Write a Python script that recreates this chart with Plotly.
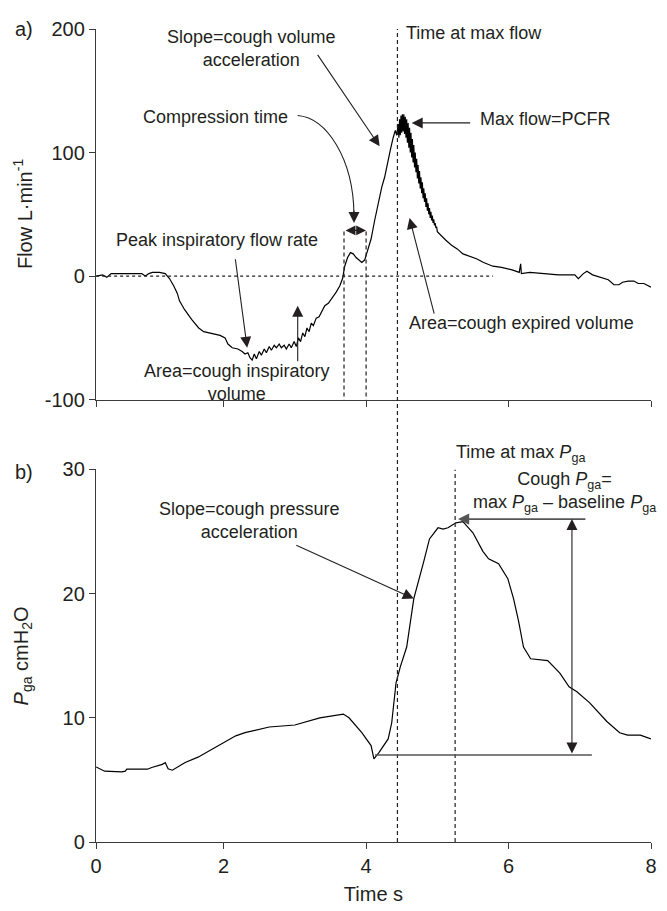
import plotly.graph_objects as go

# ---------------- data ----------------
flow_time = [0.21, 0.3, 0.36, 0.42, 0.5, 0.6, 0.75, 0.85, 0.9, 0.95, 1.0, 1.1, 1.18, 1.24, 1.3, 1.35,
             1.38, 1.45, 1.55, 1.65, 1.72, 1.8, 1.88, 1.95, 2.02, 2.06, 2.12, 2.2, 2.26, 2.3, 2.34,
             2.37, 2.4, 2.43, 2.46, 2.5, 2.53, 2.57, 2.6, 2.64, 2.67, 2.71, 2.74, 2.78, 2.81, 2.85,
             2.88, 2.92, 2.95, 2.99, 3.02, 3.05, 3.08, 3.11, 3.14, 3.17, 3.2, 3.23, 3.26, 3.3, 3.34,
             3.38, 3.42, 3.47, 3.52, 3.58, 3.63, 3.67, 3.7, 3.74, 3.78, 3.82, 3.86, 3.9, 3.94, 3.98,
             4.02, 4.07, 4.12, 4.17, 4.22, 4.26, 4.3, 4.34, 4.38, 4.41, 4.43,
             4.45, 4.46, 4.47, 4.48, 4.49, 4.50, 4.51, 4.52, 4.53, 4.54, 4.55, 4.56, 4.57, 4.58,
             4.59, 4.60, 4.61, 4.62, 4.63, 4.64, 4.65, 4.66, 4.67, 4.68, 4.69, 4.70, 4.71, 4.72,
             4.73, 4.74, 4.75, 4.76, 4.77, 4.78, 4.79, 4.80, 4.81, 4.82, 4.83, 4.84, 4.85, 4.86,
             4.87, 4.88, 4.89, 4.90, 4.91, 4.92, 4.93, 4.94, 4.95, 4.96, 4.97, 4.98, 4.99, 5.0,
             5.05, 5.12, 5.2, 5.28, 5.36, 5.45,
             5.55, 5.65, 5.78, 5.9, 6.05, 6.15, 6.17, 6.18, 6.3, 6.5, 6.7, 6.93, 6.98, 7.05, 7.1,
             7.18, 7.3, 7.4, 7.48, 7.55, 7.6, 7.68, 7.76, 7.82, 7.9, 8.0]
flow_value = [0, 1, -1, 2, 2, 2, 2, 2, 0, 2, 3, 3, 2, -2, -8, -14,
              -20, -27, -35, -42, -45, -46, -47, -48, -50, -55, -58, -59, -61, -63, -62,
              -66, -68, -63, -67, -61, -64, -59, -62, -57, -60, -56, -58, -55, -58, -56,
              -59, -55, -58, -53, -57, -50, -53, -46, -49, -42, -45, -38, -40, -34, -33,
              -28, -24, -22, -18, -13, -8, -2, 8, 15, 19, 18, 15, 13, 11, 13,
              20, 30, 45, 60, 72, 80, 92, 102, 112, 118, 114,
              123, 112, 127, 114, 130, 116, 131, 117, 131, 115, 129, 112, 127, 108,
              124, 104, 120, 100, 116, 96, 111, 92, 106, 88, 100, 84, 95, 79,
              90, 75, 85, 71, 80, 67, 76, 63, 71, 60, 67, 56, 63, 53,
              59, 50, 55, 47, 52, 45, 49, 43, 46, 41, 43, 39, 40, 36,
              33, 29, 25, 22, 18, 16,
              14, 11, 8, 7, 5, 3, 10, 2, 3, 2, 1, 1, -2, 2, 4,
              1, -1, -3, -7, -7, -5, -4, -4, -6, -6, -9]

pga_time = [0.21, 0.33, 0.57, 0.62, 0.64, 0.93, 0.99, 1.14, 1.18, 1.22, 1.28, 1.35, 1.46, 1.64,
            1.93, 2.17, 2.3, 2.4, 2.5, 2.64, 3.0, 3.11, 3.35, 3.68, 3.76, 3.94, 4.07, 4.11,
            4.18, 4.31, 4.36, 4.42, 4.48, 4.57, 4.67, 4.81, 4.89, 5.01, 5.08, 5.15, 5.26,
            5.36, 5.5, 5.64, 5.72, 5.86, 5.99, 6.07, 6.14, 6.21, 6.31, 6.55, 6.72, 6.85,
            6.96, 7.14, 7.38, 7.56, 7.67, 7.85, 8.0]
pga_value = [6.04, 5.7, 5.65, 5.7, 5.86, 5.86, 6.0, 6.25, 6.4, 5.9, 5.78, 6.04, 6.4, 6.83,
             7.76, 8.55, 8.8, 8.95, 9.1, 9.26, 9.42, 9.6, 10.0, 10.3, 10.0, 8.8, 7.76, 6.7,
             7.2, 8.3, 9.6, 12.8, 14.1, 15.7, 19.6, 22.6, 24.4, 25.3, 25.2, 25.3, 25.7,
             25.8, 24.9, 23.4, 22.8, 22.4, 21.2, 19.6, 17.8, 15.7, 14.75, 14.6, 13.6, 12.5,
             12.1, 11.2, 9.7, 8.8, 8.6, 8.6, 8.3]

# landmark values
t_comp_start = 3.69
t_comp_end = 4.0
t_max_flow = 4.44
t_max_pga = 5.25
pcfr = 124
pga_max = 26.0
pga_baseline = 7.0
x_tick_vals = [0.21, 2, 4, 6, 8]
x_tick_text = ["0", "2", "4", "6", "8"]
flow_tick_vals = [-100, 0, 100, 200]
flow_tick_text = ["-100", "0", "100", "200"]
pga_tick_vals = [0, 10, 20, 30]

FONT = "Liberation Sans, Arial, sans-serif"
TXT = "#231f20"
AX = "#3a3a3a"
GREY = "#555555"
ANN = 18

fig = go.Figure()
fig.add_trace(go.Scatter(x=flow_time, y=flow_value, mode="lines",
                         line=dict(color="black", width=1.2), xaxis="x", yaxis="y",
                         hoverinfo="skip"))
fig.add_trace(go.Scatter(x=pga_time, y=pga_value, mode="lines",
                         line=dict(color="black", width=1.2), xaxis="x2", yaxis="y2",
                         hoverinfo="skip"))

dash = "4px,3px"
shapes = [
    # zero reference dotted line
    dict(type="line", xref="x", yref="y", x0=0.21, x1=5.78, y0=0, y1=0,
         line=dict(color=TXT, width=1.2, dash="dot")),
    # compression time
    dict(type="line", xref="x", yref="y", x0=t_comp_start, x1=t_comp_start, y0=36, y1=-100,
         line=dict(color=TXT, width=1.2, dash=dash)),
    dict(type="line", xref="x", yref="y", x0=t_comp_end, x1=t_comp_end, y0=36, y1=-100,
         line=dict(color=TXT, width=1.2, dash=dash)),
    # time at max flow - spans both panels
    dict(type="line", xref="x", yref="paper", x0=t_max_flow, x1=t_max_flow, y0=0, y1=1,
         line=dict(color=TXT, width=1.2, dash=dash)),
    # time at max Pga
    dict(type="line", xref="x2", yref="y2", x0=t_max_pga, x1=t_max_pga, y0=0, y1=30,
         line=dict(color=TXT, width=1.2, dash=dash)),
    # baseline Pga
    dict(type="line", xref="x2", yref="y2", x0=4.125, x1=7.17, y0=pga_baseline, y1=pga_baseline,
         line=dict(color=GREY, width=1.6)),
    # curved arrow for compression time
    dict(type="path", xref="x", yref="y",
         path="M 3.04,130 C 3.45,128 3.82,95 3.83,50",
         line=dict(color=TXT, width=1.1)),
]

def arrow(x, y, ax, ay, xr="x", yr="y", color=TXT, width=1.1, **kw):
    d = dict(x=x, y=y, ax=ax, ay=ay, xref=xr, yref=yr, text="", showarrow=True,
             arrowhead=2, arrowsize=2.0, arrowwidth=width, arrowcolor=color)
    d.update(kw)
    return d

def label(x, y, text, xr="x", yr="y", xanchor="center", **kw):
    d = dict(x=x, y=y, xref=xr, yref=yr, text=text, showarrow=False, xanchor=xanchor,
             yanchor="middle", font=dict(family=FONT, size=ANN, color=TXT))
    d.update(kw)
    return d

annotations = [
    # top panel labels
    label(2.39, 184.5, "Slope=cough volume<br>acceleration"),
    label(1.89, 129, "Compression time"),
    label(1.90, 29.5, "Peak inspiratory flow rate"),
    label(2.19, -86.5, "Area=cough inspiratory<br>volume"),
    label(6.18, -38, "Area=cough expired volume"),
    label(4.53, 197, "Time at max flow", xanchor="left"),
    label(5.57, 127, "Max flow=PCFR", xanchor="left"),
    label(-0.13, 200, "a)", xr="paper", font=dict(family=FONT, size=20, color=TXT)),
    label(-0.132, 50, "Flow L·min<sup>-1</sup>", xr="paper", textangle=-90,
          font=dict(family=FONT, size=20, color=TXT)),
    # top panel arrows
    arrow(4.19, 105, -63, -93),
    arrow(2.33, -58, -12, -90),
    arrow(3.04, -24, 0, 57),
    arrow(4.61, 47, 25, 97),
    arrow(4.64, pcfr, 60, 0),
    arrow(3.83, 43, 0, -14),
    arrow(t_comp_end, 37, t_comp_start, 37, axref="x", ayref="y", arrowside="end+start",
          startarrowhead=2, startarrowsize=1.8, arrowsize=1.8),
    # bottom panel labels
    label(-0.13, 29.8, "b)", xr="paper", yr="y2", font=dict(family=FONT, size=20, color=TXT)),
    label(-0.132, 15, "<i>P</i><sub>ga</sub> cmH<sub>2</sub>O", xr="paper", yr="y2",
          textangle=-90, font=dict(family=FONT, size=20, color=TXT)),
    label(2.36, 25.9, "Slope=cough pressure<br>acceleration", xr="x2", yr="y2"),
    label(5.24, 0.4776, "Time at max <i>P</i><sub>ga</sub>", xr="x2", yr="paper", xanchor="left"),
    label(6.78, 28.2, "Cough <i>P</i><sub>ga</sub>=<br>max <i>P</i><sub>ga</sub> – baseline <i>P</i><sub>ga</sub>",
          xr="x2", yr="y2"),
    # bottom panel arrows
    arrow(4.67, 19.6, -119, -54, xr="x2", yr="y2"),
    arrow(5.29, pga_max, 7.10, pga_max, xr="x2", yr="y2", axref="x2", ayref="y2",
          color=GREY, width=1.6, arrowsize=1.4),
    arrow(6.89, pga_max, 6.89, pga_baseline, xr="x2", yr="y2", axref="x2", ayref="y2",
          arrowside="end+start", startarrowhead=2, startarrowsize=2.0),
]

axis_common = dict(showline=True, linecolor=AX, linewidth=1.3, ticks="outside", ticklen=6,
                   tickwidth=1.3, tickcolor=AX, showgrid=False, zeroline=False,
                   tickfont=dict(family=FONT, size=20, color=TXT), fixedrange=True)

# the page adds an 8px body margin, so the figure is sized to fill the rest of the window
fig.update_layout(
    width=659, height=903,
    margin=dict(l=88, r=10, t=13, b=63),
    paper_bgcolor="white", plot_bgcolor="white",
    showlegend=False,
    font=dict(family=FONT, color=TXT),
    xaxis=dict(domain=[0, 1], range=[0.208, 8], anchor="y", tickvals=x_tick_vals,
               showticklabels=False, **axis_common),
    yaxis=dict(domain=[0.5441, 1], range=[-100, 200], anchor="x", tickvals=flow_tick_vals,
               ticktext=flow_tick_text, **axis_common),
    xaxis2=dict(domain=[0, 1], range=[0.208, 8], anchor="y2", tickvals=x_tick_vals,
                ticktext=x_tick_text,
                title=dict(text="Time s", font=dict(family=FONT, size=20, color=TXT), standoff=10),
                **axis_common),
    yaxis2=dict(domain=[0, 0.4583], range=[0, 30], anchor="x2", tickvals=pga_tick_vals,
                **axis_common),
    shapes=shapes,
    annotations=annotations,
)

fig.write_html("out.html")
